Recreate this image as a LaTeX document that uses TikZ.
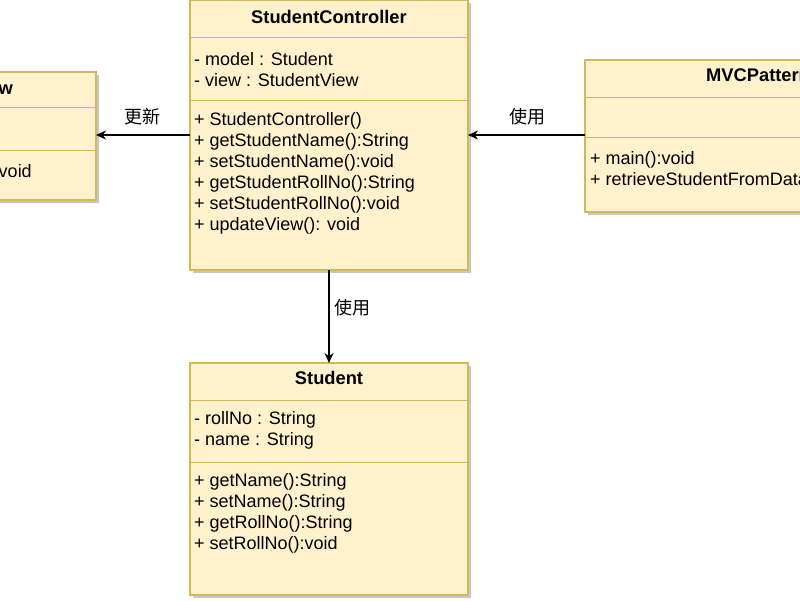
\documentclass[tikz,border=0pt]{standalone}
\usepackage{fontspec}
\setmainfont{Liberation Sans}
\newfontfamily\cjk{Noto Sans CJK SC}
\usetikzlibrary{arrows.meta}
\begin{document}
\begin{tikzpicture}[x=1pt,y=-1pt,
  box/.style={fill=umlfill,draw=umlborder,line width=1.2pt},
  shadowbox/.style={fill=black!22},
  sep/.style={draw=umlborder,line width=0.8pt},
  t/.style={anchor=west,inner sep=0pt,font=\fontsize{18}{20}\selectfont},
  ttl/.style={inner sep=0pt,font=\fontsize{18.3}{20}\selectfont\bfseries},
  lbl/.style={inner sep=0pt,font=\fontsize{18}{20}\selectfont\cjk},
  arr/.style={-{Stealth[length=10pt,width=9pt]},line width=1.3pt}]
\definecolor{umlfill}{HTML}{FFF2CC}
\definecolor{umlborder}{HTML}{D6B656}
\useasboundingbox (0,0) rectangle (800,600);
\clip (0,0) rectangle (800,600);
% shadows
\fill[shadowbox] (-157,75) rectangle (99,203);
\fill[shadowbox] (193,3) rectangle (471,273);
\fill[shadowbox] (193,366) rectangle (471,598);
\fill[shadowbox] (588,63) rectangle (960,215);
% StudentView
\draw[box] (-160,72) rectangle (96,200);
\draw[sep] (-160,107) -- (96,107);
\draw[sep] (-160,150) -- (96,150);
\node[ttl] (vt) at (-42,88) {StudentView};
\node[t,anchor=east] (v1) at (32,173) {+ printStudentDetails():void};
% StudentController
\draw[box] (190,0) rectangle (468,270);
\draw[sep] (190,37) -- (468,37);
\draw[sep] (190,100) -- (468,100);
\node[ttl] (ct) at (329,17) {StudentController};
\node[t] (c1) at (194,59) {- model : Student};
\node[t] (c2) at (194,80) {- view : StudentView};
\node[t] (c3) at (194,121) {+ StudentController()};
\node[t] (c4) at (194,142) {+ getStudentName():String};
\node[t] (c5) at (194,163) {+ setStudentName():void};
\node[t] (c6) at (194,184) {+ getStudentRollNo():String};
\node[t] (c7) at (194,205) {+ setStudentRollNo():void};
\node[t] (c8) at (194,226) {+ updateView(): void};
% Student
\draw[box] (190,363) rectangle (468,595);
\draw[sep] (190,400) -- (468,400);
\draw[sep] (190,462) -- (468,462);
\node[ttl] (st) at (329,378) {Student};
\node[t] (s1) at (194,420) {- rollNo : String};
\node[t] (s2) at (194,441) {- name : String};
\node[t] (s3) at (194,482) {+ getName():String};
\node[t] (s4) at (194,503) {+ setName():String};
\node[t] (s5) at (194,524) {+ getRollNo():String};
\node[t] (s6) at (194,545) {+ setRollNo():void};
% MVCPattern
\draw[box] (585,60) rectangle (957,212);
\draw[sep] (585,97) -- (957,97);
\draw[sep] (585,137) -- (957,137);
\node[ttl,anchor=west] (mt) at (706,75) {MVCPatternDemo};
\node[t] (m1) at (590,160) {+ main():void};
\node[t] (m2) at (590,181) {+ retrieveStudentFromDatabase():Student};
% connectors
\coordinate (a1s) at (190,135); \coordinate (a1e) at (96,135);
\coordinate (a2s) at (585,135); \coordinate (a2e) at (468,135);
\coordinate (a3s) at (329,270); \coordinate (a3e) at (329,363);
\draw[arr] (a1s) -- (a1e);
\draw[arr] (a2s) -- (a2e);
\draw[arr] (a3s) -- (a3e);
\node[lbl] (l1) at (142,117) {更新};
\node[lbl] (l2) at (527,117) {使用};
\node[lbl] (l3) at (352,308) {使用};
\end{tikzpicture}
\end{document}
